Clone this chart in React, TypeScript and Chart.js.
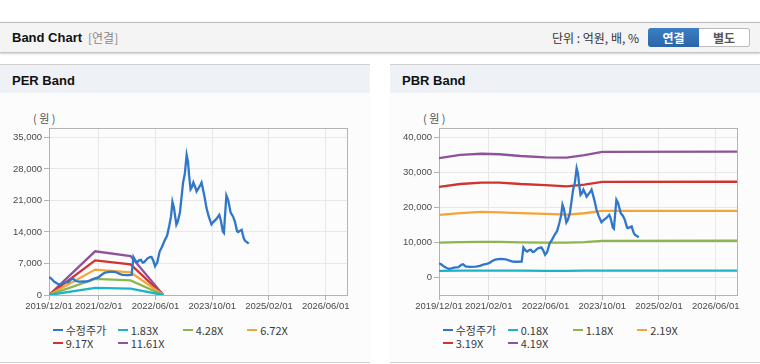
import React, { useEffect, useRef } from "react";
import { Chart, registerables } from "chart.js";

Chart.register(...registerables);

// ---- data (x = months since 2019/12/01) ----
const xTickMonths = [0, 14, 30, 46, 62, 78];
const xMaxMonth = 84;

const priceMonths = [
  0, 0.7, 1.4, 2.2, 2.8, 3.5, 4.2, 5.5, 6.3, 6.8, 7.5, 8.5, 10.4, 11.5, 12.2, 13.4, 14.1, 15.0, 15.8, 17.4,
  18.8, 19.9, 20.7, 22.0, 23.3, 23.8, 24.4, 24.9, 25.4, 25.9, 26.4, 26.8, 27.3, 27.7, 28.4, 28.9, 29.4, 29.9,
  30.5, 31.2, 31.8, 32.6, 33.3, 33.9, 34.4, 34.8, 35.2, 35.5, 35.9, 36.3, 36.9, 37.4, 37.8, 38.3, 38.8, 39.2,
  39.5, 39.9, 40.3, 40.7, 41.2, 41.6, 42.2, 42.7, 43.0, 43.4, 43.8, 44.4, 45.0, 45.8, 46.3, 47.2, 48.0, 48.3,
  48.6, 49.0, 49.3, 50.0, 50.5, 51.2, 51.9, 52.4, 53.0, 53.3, 54.3, 54.6, 54.9, 55.3, 55.7, 56.3,
];
const priceValues = [
  4000, 3600, 3000, 2600, 2350, 2500, 2700, 2850, 3500, 3650, 3100, 2950, 3000, 3200, 3500, 3800, 4000, 4600, 5000, 5200,
  5100, 4700, 4450, 4400, 4450, 8450, 7600, 7300, 7700, 7800, 7200, 7300, 7700, 8100, 8400, 8450, 7600, 6400,
  7200, 9700, 10600, 12100, 13200, 15400, 17500, 20700, 19500, 17800, 15600, 16300, 18300, 22000, 25000, 27000, 31100, 29500,
  26500, 23500, 24000, 25000, 24000, 23000, 23800, 24500, 25000, 23500, 22000, 19300, 17500, 15700, 16200, 16900, 17800, 17000,
  15900, 14100, 13800, 22100, 21100, 18300, 17400, 16300, 14200, 14000, 14500, 13500, 12600, 12000, 11800, 11400,
];

const perBandMonths = [0, 13, 23, 32.2];
const per183 = [0, 1600, 1420, 0];
const per428 = [0, 3600, 3250, 0];
const per672 = [0, 5650, 5050, 0];
const per917 = [0, 7680, 6800, 0];
const per1161 = [0, 9700, 8650, 0];

const pbrBandMonths = [0, 6, 12, 17, 23, 30, 36, 41, 46, 84];
const pbr018 = [1800, 1850, 1850, 1850, 1850, 1800, 1800, 1850, 1850, 1850];
const pbr118 = [9850, 10000, 10100, 10100, 9950, 9850, 9850, 10000, 10350, 10400];
const pbr219 = [17800, 18300, 18650, 18500, 18300, 18050, 17850, 18250, 18900, 18950];
const pbr319 = [25800, 26600, 27000, 27000, 26600, 26300, 25900, 26400, 27200, 27250];
const pbr419 = [34000, 34900, 35250, 35100, 34600, 34200, 34150, 34850, 35800, 35850];

const perYTicks = [0, 7000, 14000, 21000, 28000, 35000];
const pbrYTicks = [0, 10000, 20000, 30000, 40000];

const perLabels = ["수정주가", "1.83X", "4.28X", "6.72X", "9.17X", "11.61X"];
const pbrLabels = ["수정주가", "0.18X", "1.18X", "2.19X", "3.19X", "4.19X"];
const seriesColors = ["#3076c9", "#1cb3c6", "#8cb54f", "#f4a537", "#cf3430", "#8e5399"];

const FONT = '"Liberation Sans", "Noto Sans CJK KR", sans-serif';
const KFONT = '"Noto Sans CJK KR", "Liberation Sans", sans-serif';

function monthLabel(m: number) {
  const total = 11 + Math.round(m);
  const y = 2019 + Math.floor(total / 12);
  const mo = (total % 12) + 1;
  return `${y}/${String(mo).padStart(2, "0")}/01`;
}

const frame = {
  id: "frame",
  beforeDatasetsDraw(chart: any) {
    const { ctx, chartArea: a } = chart;
    ctx.save();
    ctx.strokeStyle = "#b3b3b3";
    ctx.lineWidth = 1;
    ctx.strokeRect(Math.round(a.left) + 0.5, Math.round(a.top) + 0.5, Math.round(a.right - a.left), Math.round(a.bottom - a.top));
    ctx.restore();
  },
};

function pts(xs: number[], ys: number[]) {
  return xs.map((x, i) => ({ x, y: ys[i] }));
}

function BandChart(props: { bandMonths: number[]; bands: number[][]; labels: string[]; yMin: number; yMax: number; yTicks: number[] }) {
  const ref = useRef<HTMLCanvasElement>(null);
  useEffect(() => {
    const datasets: any[] = [
      { label: props.labels[0], data: pts(priceMonths, priceValues), borderColor: seriesColors[0], borderWidth: 2.3, pointRadius: 0, tension: 0 },
    ];
    props.bands.forEach((b, i) => {
      datasets.push({ label: props.labels[i + 1], data: pts(props.bandMonths, b), borderColor: seriesColors[i + 1], borderWidth: 2.3, pointRadius: 0, tension: 0 });
    });
    const chart = new Chart(ref.current!, {
      type: "line",
      data: { datasets },
      plugins: [frame],
      options: {
        animation: false,
        responsive: false,
        devicePixelRatio: 1,
        layout: { padding: { top: 35, right: 23, bottom: 0, left: 0 } },
        plugins: { legend: { display: false }, tooltip: { enabled: false } },
        scales: {
          x: {
            type: "linear",
            min: 0,
            max: xMaxMonth,
            afterBuildTicks: (s: any) => {
              s.ticks = xTickMonths.map((v) => ({ value: v }));
            },
            afterFit: (s: any) => {
              s.height = 23;
            },
            grid: { color: "#e8e8e8", tickColor: "#b3b3b3", tickLength: 5 },
            border: { color: "#aaaaaa" },
            ticks: {
              callback: (v: any) => monthLabel(Number(v)),
              font: { family: FONT, size: 9.5 },
              color: "#4a4a4a",
              padding: 1,
              maxRotation: 0,
              autoSkip: false,
            },
          },
          y: {
            type: "linear",
            min: props.yMin,
            max: props.yMax,
            afterBuildTicks: (s: any) => {
              s.ticks = props.yTicks.map((v) => ({ value: v }));
            },
            afterFit: (s: any) => {
              s.width = 49;
            },
            grid: { color: "#e8e8e8", tickColor: "#b3b3b3", tickLength: 5 },
            border: { color: "#aaaaaa" },
            ticks: {
              callback: (v: any) => Number(v).toLocaleString("en-US"),
              font: { family: FONT, size: 9.5 },
              color: "#4a4a4a",
              padding: 2,
            },
          },
        },
      } as any,
    });
    return () => chart.destroy();
  }, []);
  return <canvas ref={ref} width={370} height={225} style={{ position: "absolute", left: 0, top: 28, display: "block" }} />;
}

function Legend(props: { labels: string[] }) {
  const cols = [0, 65, 130, 194.5];
  return (
    <>
      {props.labels.map((l, i) => {
        const col = i % 4;
        const row = Math.floor(i / 4);
        return (
          <div
            key={l}
            style={{
              position: "absolute",
              left: 52.7 + cols[col],
              top: 258 + row * 13,
              height: 14,
              display: "flex",
              alignItems: "center",
              fontFamily: KFONT,
              fontSize: 11,
              color: "#3a3a3a",
              whiteSpace: "nowrap",
              lineHeight: "14px",
            }}
          >
            <span style={{ display: "inline-block", width: 10, height: 2.5, background: seriesColors[i], marginRight: 3 }} />
            <span style={{ lineHeight: "14px", height: 14 }}>{l}</span>
          </div>
        );
      })}
    </>
  );
}

function Panel(props: { left: number; title: string; children: any }) {
  return (
    <div
      style={{
        position: "absolute",
        left: props.left,
        top: 64,
        width: 370,
        height: 299,
        background: "#fcfcfc",
        borderTop: "1px solid #d0d0d0",
        borderBottom: "1px solid #d0d0d0",
        boxSizing: "border-box",
      }}
    >
      <div
        style={{
          position: "absolute",
          left: 0,
          top: 0,
          width: 370,
          height: 28,
          background: "#eef2f7",
          fontFamily: FONT,
          fontWeight: "bold",
          fontSize: 13,
          color: "#111",
          lineHeight: "31px",
          paddingLeft: 12,
          boxSizing: "border-box",
        }}
      >
        {props.title}
      </div>
      <div style={{ position: "absolute", left: 33, top: 46, fontFamily: KFONT, fontSize: 11, color: "#555", lineHeight: "14px" }}>( 원 )</div>
      {props.children}
    </div>
  );
}

export default function App() {
  return (
    <div style={{ position: "absolute", left: 0, top: 0, width: 760, height: 364, background: "#fff", overflow: "hidden" }}>
      <div
        style={{
          position: "absolute",
          left: 0,
          top: 22,
          width: 760,
          height: 31,
          background: "#f4f4f4",
          borderTop: "1px solid #b8b8b8",
          borderBottom: "1px solid #c4c4c4",
          boxShadow: "0 1px 2px rgba(0,0,0,0.18)",
          boxSizing: "border-box",
        }}
      >
        <span style={{ position: "absolute", left: 12, top: 7, fontFamily: FONT, fontWeight: "bold", fontSize: 13, color: "#111", lineHeight: "16px" }}>
          Band Chart
        </span>
        <span style={{ position: "absolute", left: 88, top: 7, fontFamily: KFONT, fontSize: 12, color: "#888", lineHeight: "16px" }}>[연결]</span>
        <span style={{ position: "absolute", left: 552, top: 7, fontFamily: KFONT, fontSize: 12, color: "#333", lineHeight: "16px" }}>
          단위 : 억원, 배, %
        </span>
        <div
          style={{
            position: "absolute",
            left: 648,
            top: 5,
            width: 51,
            height: 19,
            background: "linear-gradient(#3c7fc4, #2a64a8)",
            borderRadius: "3px 0 0 3px",
            color: "#fff",
            fontFamily: KFONT,
            fontWeight: "bold",
            fontSize: 12,
            lineHeight: "19px",
            textAlign: "center",
          }}
        >
          연결
        </div>
        <div
          style={{
            position: "absolute",
            left: 699,
            top: 5,
            width: 51,
            height: 19,
            background: "#fff",
            border: "1px solid #bbb",
            borderLeft: "none",
            borderRadius: "0 3px 3px 0",
            boxSizing: "border-box",
            color: "#555",
            fontFamily: KFONT,
            fontWeight: "bold",
            fontSize: 12,
            lineHeight: "17px",
            textAlign: "center",
          }}
        >
          별도
        </div>
      </div>
      <Panel left={0} title="PER Band">
        <BandChart bandMonths={perBandMonths} bands={[per183, per428, per672, per917, per1161]} labels={perLabels} yMin={0} yMax={37100} yTicks={perYTicks} />
        <Legend labels={perLabels} />
      </Panel>
      <Panel left={390} title="PBR Band">
        <BandChart bandMonths={pbrBandMonths} bands={[pbr018, pbr118, pbr219, pbr319, pbr419]} labels={pbrLabels} yMin={-5100} yMax={42600} yTicks={pbrYTicks} />
        <Legend labels={pbrLabels} />
      </Panel>
    </div>
  );
}
